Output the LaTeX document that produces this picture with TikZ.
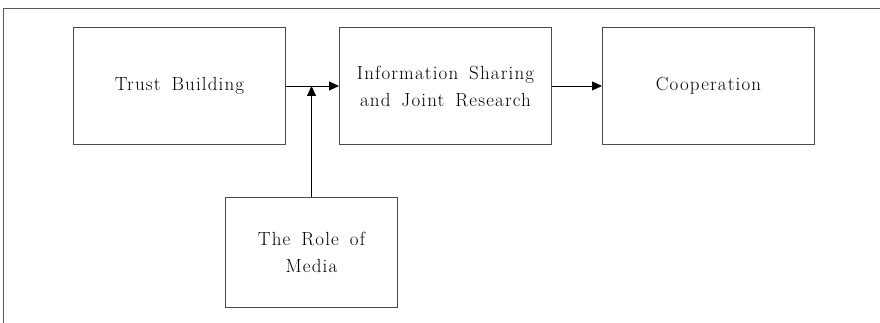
\documentclass[tikz,border=0pt]{standalone}
\usepackage{fontspec}
\usepackage{tikz}
\usetikzlibrary{arrows.meta}
\newfontfamily\boxfont{Latin Modern Roman}[LetterSpace=6,WordSpace=1.6]
\definecolor{boxgray}{HTML}{4A4A4A}
\definecolor{framegray}{HTML}{5A5A5A}
\tikzset{
    stage/.style={draw=boxgray,line width=1pt,align=center,
        minimum width=212pt,minimum height=117pt,inner sep=0pt,
        font=\boxfont\fontsize{19}{27}\selectfont},
    link/.style={line width=0.9pt,-{Triangle[length=10pt,width=9pt]}}
}

\begin{document}
\begin{tikzpicture}[x=1pt,y=-1pt]
    \useasboundingbox (0,0) rectangle (880,323);
    \draw[framegray,line width=1.2pt] (3.5,323) -- (3.5,8.5) -- (880,8.5);
    \node[stage] (trust) at (179.5,86) {Trust Building};
    \node[stage] (info) at (445.5,86) {Information Sharing\\and Joint Research};
    \node[stage] (coop) at (708.5,86) {Cooperation};
    \node[stage,minimum width=172pt,minimum height=109.5pt] (media) at (311.5,252.25) {The Role of\\Media};
    \coordinate (join) at (media.north |- trust.east);
    \draw[link] (trust.east) -- (info.west);
    \draw[link] (media.north) -- (join);
    \draw[link] (info.east) -- (coop.west);
\end{tikzpicture}
\end{document}
